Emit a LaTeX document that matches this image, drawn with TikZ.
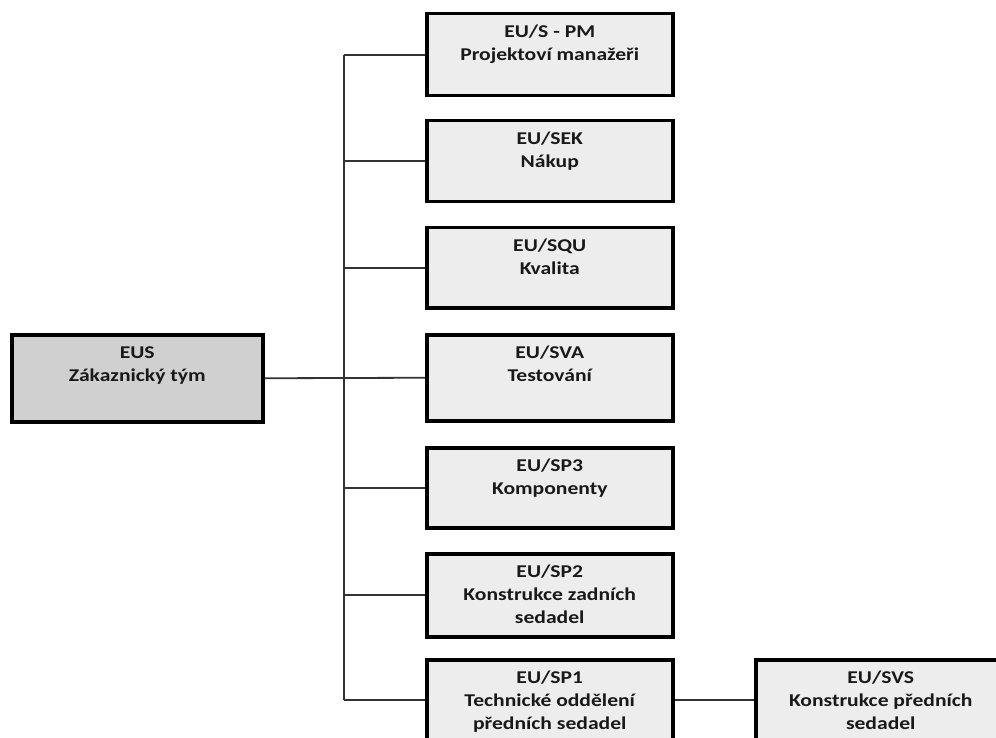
\documentclass[tikz,border=0pt]{standalone}
\usepackage{fontspec}
\setmainfont[FakeStretch=1.2]{Carlito}
\begin{document}
\begin{tikzpicture}[x=1pt,y=-1pt,
  box/.style={draw=black,line width=3.5pt,fill=boxgray,rectangle,inner sep=0pt,anchor=north west},
  topbox/.style={box,fill=topgray},
  lbl/.style={anchor=north,align=center,font=\fontsize{18}{23}\selectfont\bfseries,text=black!90,inner sep=0pt},
  conn/.style={draw=black!80,line width=1.8pt}]
\definecolor{boxgray}{HTML}{EDEDED}
\definecolor{topgray}{HTML}{D0D0D0}
\useasboundingbox (0,0) rectangle (996,738);
\clip (0,0) rectangle (996,738);
% boxes
\node[topbox,minimum width=251,minimum height=87] (eus) at (10,333) {};
\node[box,minimum width=246,minimum height=82] (b1) at (425,12) {};
\node[box,minimum width=246,minimum height=81] (b2) at (425,119) {};
\node[box,minimum width=246,minimum height=80] (b3) at (425,226) {};
\node[box,minimum width=246,minimum height=86] (b4) at (425,333) {};
\node[box,minimum width=246,minimum height=80] (b5) at (425,446) {};
\node[box,minimum width=246,minimum height=83] (b6) at (425,552) {};
\node[box,minimum width=246,minimum height=80] (b7) at (425,658) {};
\node[box,minimum width=250,minimum height=80] (b8) at (754,658) {};
% labels
\node[lbl] (teus) at ([yshift=-13]eus.north) {EUS\\Zákaznický tým};
\node[lbl] (t1) at ([yshift=-13]b1.north) {EU/S - PM\\Projektoví manažeři};
\node[lbl] (t2) at ([yshift=-13]b2.north) {EU/SEK\\Nákup};
\node[lbl] (t3) at ([yshift=-13]b3.north) {EU/SQU\\Kvalita};
\node[lbl] (t4) at ([yshift=-13]b4.north) {EU/SVA\\Testování};
\node[lbl] (t5) at ([yshift=-13]b5.north) {EU/SP3\\Komponenty};
\node[lbl] (t6) at ([yshift=-13]b6.north) {EU/SP2\\Konstrukce zadních\\sedadel};
\node[lbl] (t7) at ([yshift=-13]b7.north) {EU/SP1\\Technické oddělení\\předních sedadel};
\node[lbl] (t8) at ([yshift=-13]b8.north) {EU/SVS\\Konstrukce předních\\sedadel};
% connectors
\coordinate (tr) at (344,0);
\draw[conn] (b1.west -| tr) -- (b7.west -| tr);
\draw[conn] (eus.east) -- (b4.west);
\foreach \b in {b1,b2,b3,b5,b6,b7} \draw[conn] (\b.west -| tr) -- (\b.west);
\draw[conn] (b7.east) -- (b8.west);
\end{tikzpicture}
\end{document}
